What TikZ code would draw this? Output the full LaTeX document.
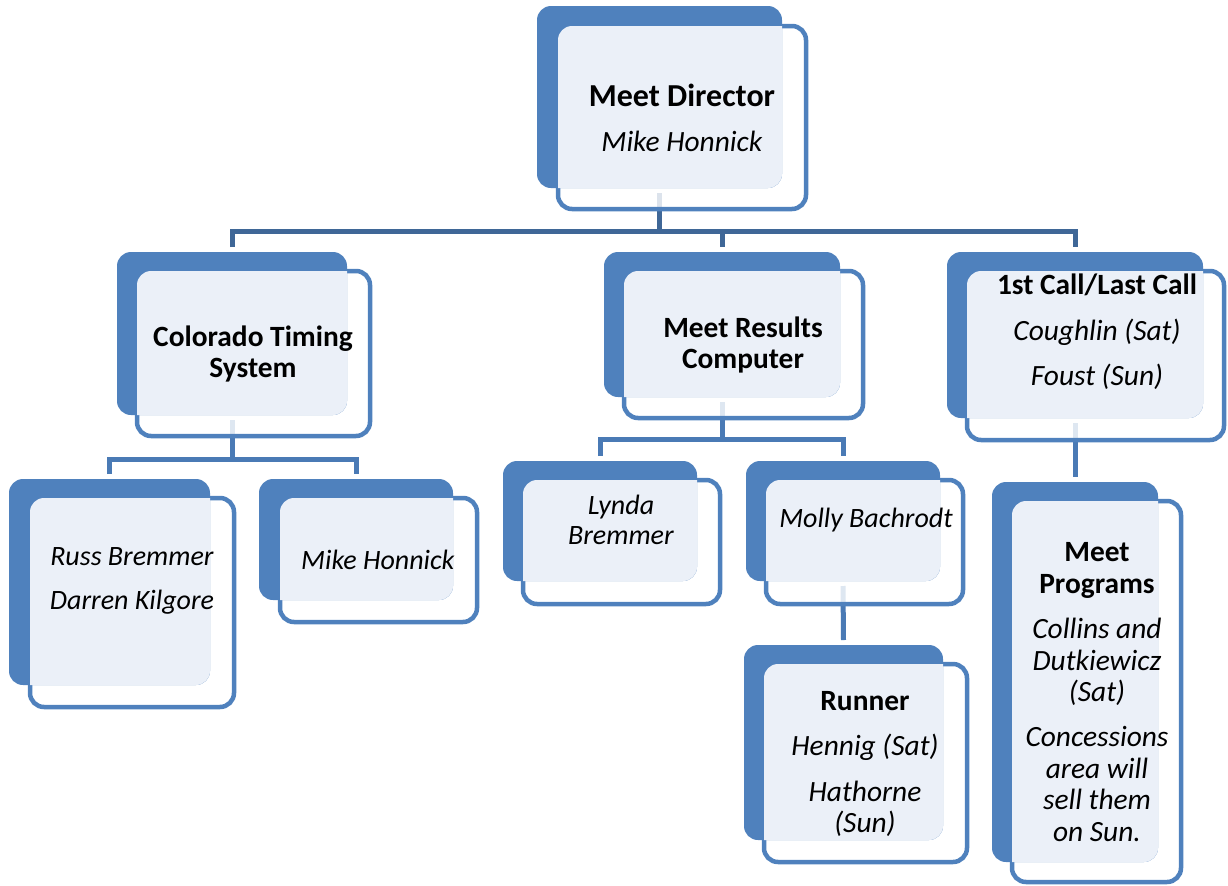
\documentclass[tikz,border=0pt]{standalone}
\usepackage{fontspec}
\setmainfont{Carlito}
\usetikzlibrary{fit,calc}
\pgfdeclarelayer{background}
\pgfsetlayers{background,main}
\definecolor{boxblue}{HTML}{4F81BD}
\definecolor{lightbox}{HTML}{EBF0F8}
\definecolor{conncol}{HTML}{4A7AB5}
\definecolor{topcol}{HTML}{3F6797}
\tikzset{
  frontbox/.style={draw=boxblue, line width=2.25pt, fill=white, fill opacity=0.82, draw opacity=1, rounded corners=7pt, inner sep=0pt, outer sep=0pt},
  backbox/.style={fill=boxblue, draw=none, rounded corners=7pt, inner sep=0pt, outer sep=0pt},
  lightfill/.style={fill=lightbox},
  conn/.style={draw=conncol, line width=2.5pt, line cap=butt, line join=miter},
  topconn/.style={conn, draw=topcol},
  txt/.style={align=center, font=\fontsize{14.7}{15.7}\selectfont, inner sep=0pt, text=black},
  smalltxt/.style={txt, font=\fontsize{14}{15.2}\selectfont}
}
\newcommand\orgbox[9]{%
  \node[frontbox, fit={(#6,#7) (#8,#9)}] (#1F) {};
  \node[backbox, fit={(#2,#3) (#4,#5)}] (#1) {};
  \begin{scope}
    \clip[rounded corners=7pt] (#1.north west) rectangle (#1.south east);
    \fill[lightfill, rounded corners=7pt] (#1F.north west) rectangle (#1F.south east);
  \end{scope}}
\begin{document}
\begin{tikzpicture}[x=0.5pt,y=-0.5pt]
\useasboundingbox (0,0) rectangle (1228,885);
% boxes
\orgbox{md}{537}{6}{782}{188}{558}{26}{806}{209}
\orgbox{ct}{117}{252}{347}{415}{137}{271}{370}{436}
\orgbox{mr}{604}{252}{840}{397}{624}{271}{863}{418}
\orgbox{fc}{947}{252}{1203}{418}{967}{271}{1224}{440}
\orgbox{rb}{9}{479}{210}{685}{30}{498}{234}{707}
\orgbox{mh}{259}{479}{453}{600}{280}{498}{477}{622}
\orgbox{lb}{503}{461}{697}{581}{523}{480}{720}{604}
\orgbox{mb}{746}{461}{940}{581}{766}{480}{963}{604}
\orgbox{rn}{744}{645}{943}{840}{764}{664}{967}{862}
\orgbox{mp}{992}{482}{1158}{862}{1012}{501}{1181}{882}
% bar levels
\coordinate (barA) at (0,231);
\coordinate (barB) at (0,459);
\coordinate (barC) at (0,439);
% connectors
\begin{pgfonlayer}{background}
\draw[topconn] ($(md.south)+(0,5)$) -- (md.south |- barA);
\draw[topconn] ($(ct.north)+(0,-5)$) -- (ct.north |- barA) -- (fc.north |- barA) -- ($(fc.north)+(0,-5)$);
\draw[topconn] (mr.north |- barA) -- ($(mr.north)+(0,-5)$);
\draw[conn] ($(ct.south)+(0,5)$) -- (ct.south |- barB);
\draw[conn] ($(rb.north)+(0,-5)$) -- (rb.north |- barB) -- (mh.north |- barB) -- ($(mh.north)+(0,-5)$);
\draw[conn] ($(mr.south)+(0,5)$) -- (mr.south |- barC);
\draw[conn] ($(lb.north)+(0,-5)$) -- (lb.north |- barC) -- (mb.north |- barC) -- ($(mb.north)+(0,-5)$);
\draw[conn] ($(mb.south)+(0,5)$) -- ($(rn.north)+(0,-5)$);
\draw[conn] ($(fc.south)+(0,5)$) -- ($(mp.north)+(0,-5)$);
\end{pgfonlayer}
% texts
\node[txt] (mdT) at (682,118) {{\fontsize{16}{16}\selectfont\textbf{Meet Director}}\\[7pt]\textit{Mike Honnick}};
\node[txt] (ctT) at (253,354) {\textbf{Colorado Timing}\\\textbf{System}};
\node[txt] (mrT) at (743,345) {\textbf{Meet Results}\\\textbf{Computer}};
\node[txt] (fcT) at (1097,332) {\textbf{1st Call/Last Call}\\[7pt]\textit{Coughlin (Sat)}\\[7pt]\textit{Foust (Sun)}};
\node[smalltxt] (rbT) at (132,581) {\textit{Russ Bremmer}\\[7pt]\textit{Darren Kilgore}};
\node[smalltxt] (mhT) at (378,560) {\textit{Mike Honnick}};
\node[smalltxt] (lbT) at (621,520) {\textit{Lynda}\\\textit{Bremmer}};
\node[smalltxt] (mbT) at (866,520) {\textit{Molly Bachrodt}};
\node[txt] (rnT) at (865,764) {\textbf{Runner}\\[7pt]\textit{Hennig (Sat)}\\[7pt]\textit{Hathorne}\\\textit{(Sun)}};
\node[txt] (mpT) at (1097,692) {\textbf{Meet}\\\textbf{Programs}\\[7pt]\textit{Collins and}\\\textit{Dutkiewicz}\\\textit{(Sat)}\\[7pt]\textit{Concessions}\\\textit{area will}\\\textit{sell them}\\\textit{on Sun.}};
\end{tikzpicture}
\end{document}
